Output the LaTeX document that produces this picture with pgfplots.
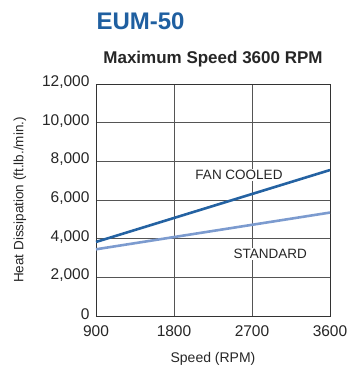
\documentclass[border=0pt]{standalone}
\usepackage{pgfplots}
\pgfplotsset{compat=1.18}
\usepackage{fontspec}
\setmainfont{Liberation Sans}
\definecolor{titleblue}{HTML}{1F5FA0}
\definecolor{fanblue}{HTML}{2462A2}
\definecolor{stdblue}{HTML}{7C9BCF}
\definecolor{gridgray}{HTML}{555555}
\begin{document}
\begin{tikzpicture}
\useasboundingbox (-96pt,-55pt) rectangle (251pt,316pt);
\begin{axis}[
  at={(0,0)}, anchor=south west,
  scale only axis, width=234pt, height=232pt,
  xmin=900, xmax=3600, ymin=0, ymax=12000,
  xtick={900,1800,2700,3600},
  ytick={0,2000,4000,6000,8000,10000,12000},
  scaled ticks=false,
  grid=major,
  major grid style={gridgray, line width=0.8pt},
  axis line style={black!80, line width=0.8pt},
  tick style={draw=none},
  yticklabel={\pgfmathprintnumber[fixed, precision=0, 1000 sep={,}, assume math mode=true]{\tick}},
  xticklabel={\pgfmathprintnumber[fixed, precision=0, 1000 sep={}, assume math mode=true]{\tick}},
  tick label style={font=\fontsize{15.5}{17}\selectfont, text=black!85},
  xticklabel style={yshift=-6pt},
  yticklabel style={xshift=-3pt, yshift=2pt},
  xlabel={Speed (RPM)},
  ylabel={Heat Dissipation (ft.lb./min.)},
  xlabel style={font=\fontsize{14}{16}\selectfont, text=black!85, yshift=-9pt},
  ylabel style={font=\fontsize{13.5}{15}\selectfont, text=black!85, yshift=9pt},
  clip=false,
]
\addplot[stdblue, line width=2.6pt] coordinates {(900,3450) (3600,5350)};
\addplot[fanblue, line width=2.6pt] coordinates {(900,3830) (3600,7550)};
\node[fill=white, inner sep=1.5pt, font=\fontsize{13.5}{15}\selectfont, text=black!85] at (axis cs:2550,7300) {FAN COOLED};
\node[fill=white, inner sep=1.5pt, font=\fontsize{13.5}{15}\selectfont, text=black!85] at (axis cs:2910,3200) {STANDARD};
\node[anchor=west, font=\bfseries\fontsize{24}{27}\selectfont, text=titleblue] at (rel axis cs:0,1) [yshift=63pt, xshift=-3pt] {EUM-50};
\node[font=\bfseries\fontsize{17}{19}\selectfont, text=black!85] at (rel axis cs:0.5,1) [yshift=25pt] {Maximum Speed 3600 RPM};
\end{axis}
\end{tikzpicture}
\end{document}
